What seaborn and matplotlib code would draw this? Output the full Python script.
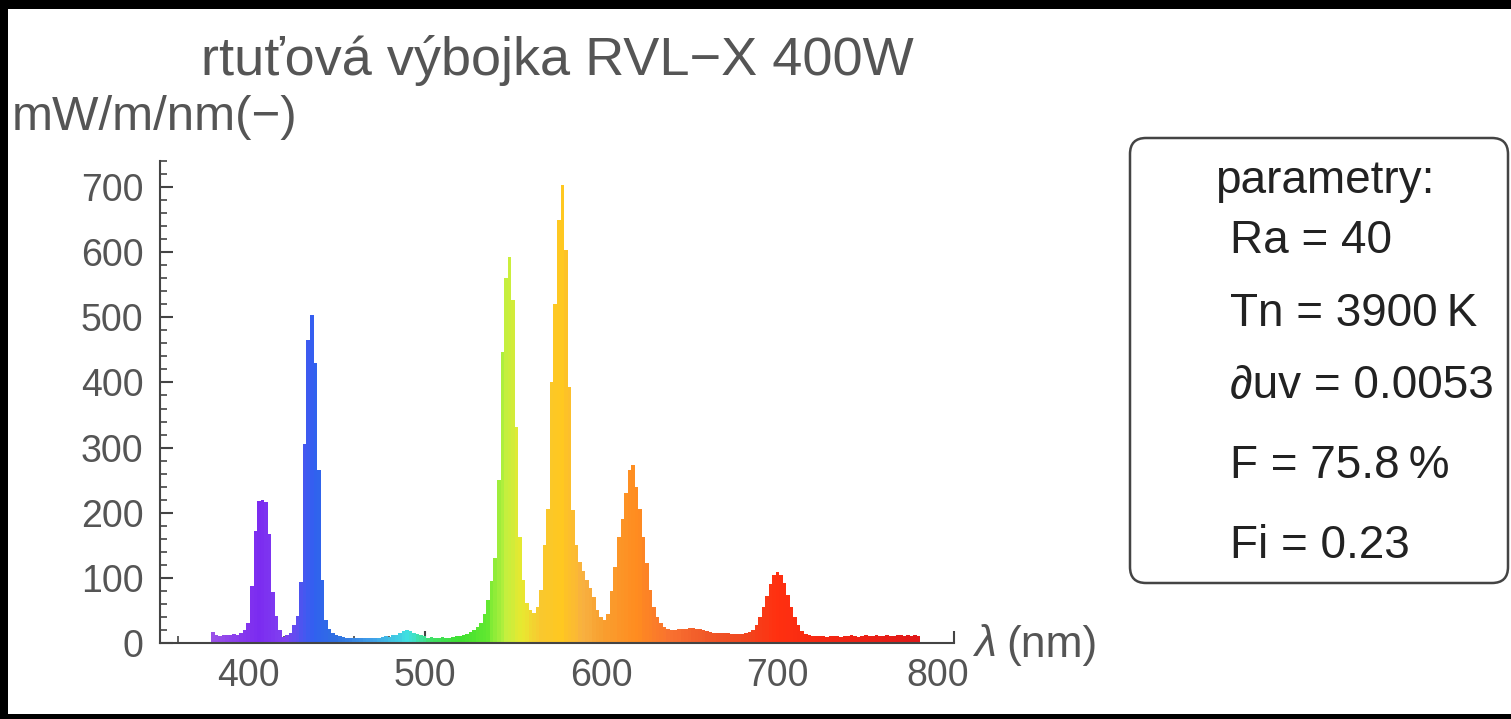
import numpy as np
import pandas as pd
import matplotlib
matplotlib.use("Agg")
import matplotlib.pyplot as plt
from matplotlib.colors import LinearSegmentedColormap
from matplotlib.patches import FancyBboxPatch, Rectangle
from matplotlib.ticker import MultipleLocator, FuncFormatter
from matplotlib.transforms import IdentityTransform
import seaborn as sns

sns.set_style("ticks")
plt.rcParams['font.family'] = ['Liberation Sans', 'DejaVu Sans']

# spektrum 380-780 nm, krok 2 nm
wavelengths = np.arange(380, 782, 2)
power = [
    17, 12, 10, 12, 13, 13, 14, 13, 15, 20,          # 380-398
    30, 88, 172, 218, 220, 216, 168, 78, 42, 20,     # 400-418
    9, 12, 16, 28, 42, 94, 305, 465, 503, 430,       # 420-438
    265, 97, 36, 22, 15, 12, 10, 9, 8, 8,            # 440-458
    7, 8, 8, 7, 8, 8, 7, 8, 9, 10,                   # 460-478
    9, 12, 13, 16, 19, 20, 18, 16, 14, 12,           # 480-498
    10, 8, 9, 8, 8, 9, 8, 8, 9, 10,                  # 500-518
    11, 12, 14, 17, 20, 24, 30, 45, 66, 95,          # 520-538
    130, 250, 447, 560, 592, 527, 331, 163, 97, 62,  # 540-558
    50, 46, 55, 81, 150, 205, 400, 520, 649, 703,    # 560-578
    603, 393, 204, 150, 125, 110, 97, 85, 70, 51,    # 580-598
    40, 36, 45, 80, 117, 163, 190, 230, 266, 273,    # 600-618
    240, 205, 163, 123, 81, 55, 40, 30, 24, 22,      # 620-638
    20, 20, 21, 21, 22, 23, 23, 22, 21, 20,          # 640-658
    18, 17, 16, 16, 15, 15, 15, 14, 14, 14,          # 660-678
    14, 15, 17, 20, 28, 40, 55, 72, 90, 104,         # 680-698
    109, 104, 92, 74, 56, 40, 27, 18, 14, 12,        # 700-718
    11, 10, 11, 10, 9, 10, 11, 10, 9, 11,            # 720-738
    10, 12, 10, 9, 11, 12, 10, 11, 12, 10,           # 740-758
    11, 12, 11, 10, 12, 13, 11, 12, 11, 12,          # 760-778
    10,                                              # 780
]

title = "rtuťová výbojka RVL−X 400W"
ylabel = "mW/m/nm(−)"
params_head = "parametry:"
params = ["Ra = 40", "Tn = 3900\u2009K", "∂uv = 0.0053", "F = 75.8\u2009%",
          "Fi = 0.23"]

# barvy viditelneho spektra
spec_nm = [380, 405, 420, 436, 450, 470, 490, 505, 520, 535, 545, 555,
           565, 578, 590, 600, 620, 640, 660, 680, 700, 780]
spec_col = ["#9a50e8", "#7b2cf0", "#8040f0", "#3060f0", "#2f70e0", "#40a0e8",
            "#40e0e0", "#40e060", "#40e030", "#60e830", "#c0f040", "#e8e830",
            "#f8c830", "#ffc820", "#f8b040", "#f8a030", "#ff8c20", "#f87030",
            "#f05828", "#f04820", "#ff3010", "#e01818"]
cmap = LinearSegmentedColormap.from_list(
    "spec", list(zip([(w - 380) / 400 for w in spec_nm], spec_col)))

df = pd.DataFrame({"nm": wavelengths.astype(float), "p": np.array(power, dtype=float)})

fig = plt.figure(figsize=(15.11, 7.19), dpi=100)
ax = fig.add_axes([160 / 1511, 0.1057, 794 / 1511, 0.6704])

sns.histplot(data=df, x="nm", weights="p", binwidth=2, binrange=(379, 781),
             ax=ax, element="bars", linewidth=0, alpha=0.9)
for p in ax.patches:
    c = p.get_x() + p.get_width() / 2
    p.set_facecolor(cmap((c - 380) / 400))
    p.set_edgecolor("none")

ax.set_xlim(350, 800)
ax.set_ylim(0, 740)
ax.set_xlabel("")
ax.set_ylabel("")
ax.xaxis.set_major_locator(MultipleLocator(100))
ax.xaxis.set_minor_locator(MultipleLocator(20))
ax.yaxis.set_major_locator(MultipleLocator(100))
ax.yaxis.set_minor_locator(MultipleLocator(20))
# posledni popisek osy x je posunuty doleva (jako v originale)
ax.xaxis.set_major_formatter(FuncFormatter(
    lambda v, pos: "" if v >= 800 else f"{v:.0f}"))
ax.tick_params(which="major", direction="in", length=9, width=1.5,
               color="#444444", labelsize=27, labelcolor="#555555")
ax.tick_params(axis="y", which="major", pad=12)
ax.tick_params(axis="x", which="major", pad=11)
ax.tick_params(which="minor", direction="in", length=5, width=1.2,
               color="#444444")
ax.annotate("800", xy=(800, 0), xycoords="data", xytext=(-11.5, -11),
            textcoords="offset points", ha="center", va="top",
            fontsize=27, color="#555555")
sns.despine(ax=ax)
for s in ["left", "bottom"]:
    ax.spines[s].set_color("#444444")
    ax.spines[s].set_linewidth(1.5)

ax.set_title(title, fontsize=39, color="#555555", pad=62)
fig.text(12 / 1511, (719 - 117) / 719, ylabel, fontsize=35.5, color="#555555",
         ha="left", va="center")
fig.text(974 / 1511, (719 - 645) / 719, "λ", fontsize=32, color="#555555",
         style="italic", ha="left", va="center")
fig.text(1006 / 1511, (719 - 645) / 719, "(nm)", fontsize=32,
         color="#555555", ha="left", va="center")

# ramecek s parametry
box = FancyBboxPatch((1130, 136), 378, 445,
                     boxstyle="round,pad=0,rounding_size=16",
                     transform=IdentityTransform(), facecolor="white",
                     edgecolor="#444444", linewidth=1.8)
fig.patches.append(box)
fig.text(1215 / 1511, (719 - 181) / 719, params_head, fontsize=33,
         color="#222222", ha="left", va="center")
for txt, yc in zip(params, [241, 314, 386, 466, 546]):
    fig.text(1230 / 1511, (719 - yc) / 719, txt, fontsize=33,
             color="#222222", ha="left", va="center")

# cerny okraj
for (x0, y0, w, h) in [(0, 710, 1511, 9), (0, 0, 8, 719), (0, 0, 1511, 5)]:
    fig.patches.append(Rectangle((x0, y0), w, h, transform=IdentityTransform(),
                                 facecolor="black", edgecolor="none"))

fig.savefig("out.png", dpi=100)
